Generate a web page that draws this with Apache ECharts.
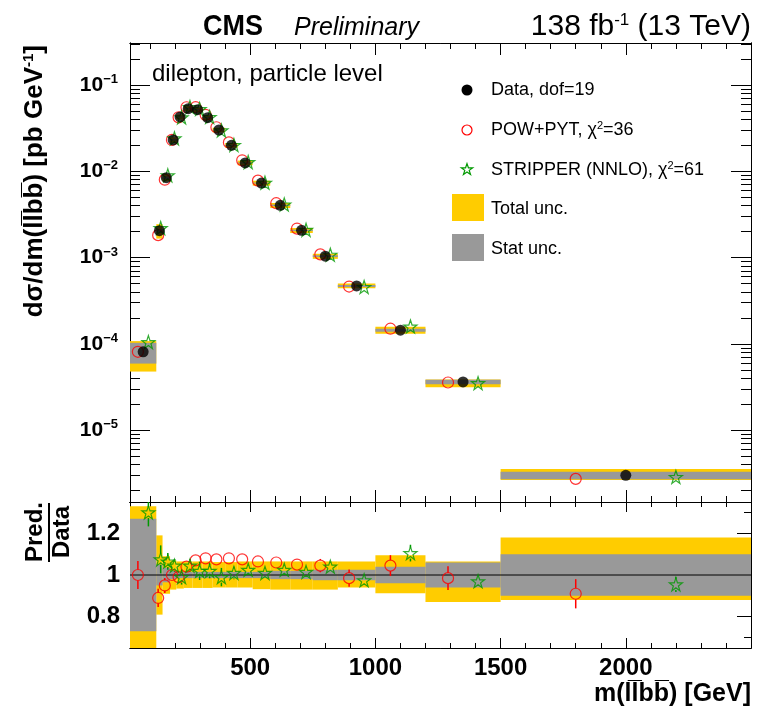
<!DOCTYPE html>
<html><head><meta charset="utf-8">
<script src="https://cdn.jsdelivr.net/npm/echarts@6/dist/echarts.min.js"></script>
<style>html,body{margin:0;padding:0;background:#fff}#c{width:759px;height:714px}</style>
</head><body><div id="c"></div>
<script>
// ---------------- data ----------------
const binEdges = [20,125,150,180,205,235,270,310,350,400,450,510,580,660,750,850,1000,1200,1500,2500];
const dataXsec  = [8.1e-5,2.05e-3,8.43e-3,2.31e-2,4.26e-2,5.31e-2,5.17e-2,4.18e-2,3.01e-2,2.0e-2,1.25e-2,7.31e-3,4.03e-3,2.07e-3,1.04e-3,4.69e-4,1.44e-4,3.62e-5,3.0e-6];
const powXsec   = [8.1e-5,1.82e-3,8.0e-3,2.31e-2,4.22e-2,5.52e-2,5.53e-2,4.51e-2,3.24e-2,2.16e-2,1.34e-2,7.79e-3,4.27e-3,2.17e-3,1.09e-3,4.62e-4,1.50e-4,3.57e-5,2.73e-6];
const stripXsec = [1.05e-4,2.20e-3,8.98e-3,2.41e-2,4.22e-2,5.55e-2,5.27e-2,4.26e-2,2.98e-2,2.02e-2,1.28e-2,7.38e-3,4.13e-3,2.10e-3,1.08e-3,4.57e-4,1.59e-4,3.51e-5,2.87e-6];
const powRatio      = [1.00,0.89,0.95,1.00,0.99,1.04,1.07,1.08,1.075,1.08,1.075,1.065,1.06,1.05,1.045,0.985,1.045,0.985,0.91];
const powRatioErr   = [0.067,0.044,0.036,0.02,0.02,0.02,0.025,0.025,0.025,0.025,0.025,0.025,0.025,0.025,0.032,0.041,0.05,0.057,0.07];
const stripRatio    = [1.30,1.075,1.065,1.045,0.99,1.045,1.02,1.02,0.99,1.01,1.025,1.01,1.025,1.015,1.04,0.975,1.105,0.97,0.955];
const stripRatioErr = [0.067,0.067,0.04,0.03,0.036,0.03,0.044,0.036,0.044,0.03,0.025,0.025,0.02,0.02,0.02,0.02,0.04,0.02,0.037];
const totUncUp    = [0.33,0.19,0.09,0.07,0.065,0.065,0.065,0.065,0.062,0.062,0.065,0.065,0.065,0.065,0.065,0.065,0.095,0.065,0.18];
const totUncDown  = [0.41,0.19,0.09,0.07,0.065,0.062,0.062,0.062,0.06,0.06,0.06,0.068,0.07,0.07,0.07,0.06,0.087,0.13,0.12];
const statUncUp   = [0.27,0.05,0.035,0.02,0.015,0.015,0.015,0.015,0.015,0.015,0.015,0.015,0.02,0.02,0.025,0.025,0.04,0.06,0.10];
const statUncDown = [0.27,0.05,0.035,0.02,0.015,0.015,0.015,0.015,0.015,0.015,0.015,0.015,0.02,0.02,0.025,0.025,0.04,0.06,0.10];
const xTickLabels = [500,1000,1500,2000];
const xMinorTicks = [100,200,300,400,600,700,800,900,1100,1200,1300,1400,1600,1700,1800,1900,2100,2200,2300,2400];
const yTickValues = [1e-1,1e-2,1e-3,1e-4,1e-5];
const yMinorTicks = [2e-6,3e-6,4e-6,5e-6,6e-6,7e-6,8e-6,9e-6,2e-5,3e-5,4e-5,5e-5,6e-5,7e-5,8e-5,9e-5,2e-4,3e-4,4e-4,5e-4,6e-4,7e-4,8e-4,9e-4,2e-3,3e-3,4e-3,5e-3,6e-3,7e-3,8e-3,9e-3,2e-2,3e-2,4e-2,5e-2,6e-2,7e-2,8e-2,9e-2,2e-1,3e-1];
const ratioTickLabels = [0.8,1,1.2];
const ratioMinorTicks = [0.7,0.9,1.1,1.3];

// ---------------- styling ----------------
const FONT = '"Liberation Sans", Arial, Helvetica, sans-serif';
const YELLOW = '#ffcc00', GRAY = '#999999', RED = '#ff0000', GREEN = '#009900';
const STAR_PTS = [[50,0],[61.8,35.1],[97.6,35.1],[68.5,56.7],[79.4,90.5],[50,69.5],[20.6,90.5],[31.5,56.7],[2.4,35.1],[38.2,35.1]];
const STAR = 'path://M' + STAR_PTS.map(p => p.join(',')).join(' L') + ' Z';
const X_MIN = 20, X_MAX = 2500;
const Y_MAX = 0.3067, Y_MIN = 1.472e-6;

const nb = dataXsec.length;
const lowE = binEdges.slice(0, nb), highE = binEdges.slice(1);
const centers = lowE.map((e, i) => (e + highE[i]) / 2);
const widths = lowE.map((e, i) => highE[i] - e);
const xPow = centers.map((c, i) => c - 0.2 * widths[i]);
const xStrip = centers.map((c, i) => c + 0.2 * widths[i]);

function bandRender(color) {
  return function (params, api) {
    const p0 = api.coord([api.value(0), api.value(3)]);
    const p1 = api.coord([api.value(1), api.value(2)]);
    const cs = params.coordSys;
    const r = echarts.graphic.clipRectByRect(
      {x: p0[0], y: p0[1], width: p1[0] - p0[0], height: p1[1] - p0[1]},
      {x: cs.x, y: cs.y, width: cs.width, height: cs.height});
    if (!r) return null;
    return {type: 'rect', shape: r, style: {fill: color}};
  };
}
function errRender(color) {
  return function (params, api) {
    const x = api.value(0), y = api.value(1), e = api.value(2);
    const cs = params.coordSys;
    const pc = api.coord([x, y]);
    let pt = api.coord([x, y + e])[1], pb = api.coord([x, y - e])[1];
    pt = Math.max(pt, cs.y); pb = Math.min(pb, cs.y + cs.height);
    const r = 5.5, ch = [];
    if (pc[1] - r > pt) ch.push({type: 'line', shape: {x1: pc[0], y1: pt, x2: pc[0], y2: pc[1] - r}, style: {stroke: color, lineWidth: 1.5}});
    if (pb > pc[1] + r) ch.push({type: 'line', shape: {x1: pc[0], y1: pc[1] + r, x2: pc[0], y2: pb}, style: {stroke: color, lineWidth: 1.5}});
    return {type: 'group', children: ch};
  };
}

function xAx(grid, pos, ticks, len, labels) {
  const a = {type: 'value', gridIndex: grid, position: pos, min: X_MIN, max: X_MAX,
    axisLine: {show: true, onZero: false, lineStyle: {color: '#000', width: 1}},
    axisTick: {show: true, inside: true, length: len, customValues: ticks, lineStyle: {color: '#000', width: 1}},
    axisLabel: {show: false}, splitLine: {show: false}};
  if (labels) a.axisLabel = {show: true, customValues: xTickLabels, margin: 8, formatter: v => String(Math.round(v)),
    fontFamily: FONT, fontWeight: 'bold', fontSize: 24, color: '#000'};
  return a;
}
function yLog(pos, ticks, len, labels) {
  const a = {type: 'log', logBase: 10, gridIndex: 0, position: pos, min: Y_MIN, max: Y_MAX,
    axisLine: {show: true, onZero: false, lineStyle: {color: '#000', width: 1}},
    axisTick: {show: true, inside: true, length: len, customValues: ticks, lineStyle: {color: '#000', width: 1}},
    axisLabel: {show: false}, splitLine: {show: false}, minorTick: {show: false}};
  if (labels) a.axisLabel = {show: true, customValues: yTickValues, margin: 12,
    formatter: v => '{b|10}{s|\u2212' + Math.abs(Math.round(Math.log10(v))) + '}',
    rich: {b: {fontFamily: FONT, fontWeight: 'bold', fontSize: 21, color: '#000'},
           s: {fontFamily: FONT, fontWeight: 'bold', fontSize: 13, color: '#000', padding: [0, 0, 11, 0]}}};
  return a;
}
function yRat(pos, ticks, len, labels) {
  const a = {type: 'value', gridIndex: 1, position: pos, min: 0.65, max: 1.35,
    axisLine: {show: true, onZero: false, lineStyle: {color: '#000', width: 1}},
    axisTick: {show: true, inside: true, length: len, customValues: ticks, lineStyle: {color: '#000', width: 1}},
    axisLabel: {show: false}, splitLine: {show: false}};
  if (labels) a.axisLabel = {show: true, customValues: ratioTickLabels, margin: 10,
    fontFamily: FONT, fontWeight: 'bold', fontSize: 24, color: '#000'};
  return a;
}

const upperYellow = dataXsec.map((d, i) => [lowE[i], highE[i], d * (1 - totUncDown[i]), d * (1 + totUncUp[i])]);
const upperGray = dataXsec.map((d, i) => [lowE[i], highE[i], d * (1 - statUncDown[i]), d * (1 + statUncUp[i])]);
const ratioYellow = lowE.map((e, i) => [e, highE[i], 1 - totUncDown[i], 1 + totUncUp[i]]);
const ratioGray = lowE.map((e, i) => [e, highE[i], 1 - statUncDown[i], 1 + statUncUp[i]]);

const legStar = STAR_PTS.map(p => [467 + (p[0] - 50) * 0.12, 169 + (p[1] - 45.25) * 0.12]);
const txt = (o) => Object.assign({type: 'text', silent: true}, o);
const option = {
  animation: false,
  backgroundColor: '#fff',
  grid: [
    {left: 130, top: 43, width: 621, height: 459},
    {left: 130, top: 502, width: 621, height: 146}
  ],
  xAxis: [
    xAx(0, 'bottom', xTickLabels, 12, false), xAx(0, 'bottom', xMinorTicks, 6, false),
    xAx(0, 'top', xTickLabels, 12, false), xAx(0, 'top', xMinorTicks, 6, false),
    xAx(1, 'bottom', xTickLabels, 10, true), xAx(1, 'bottom', xMinorTicks, 5, false),
    xAx(1, 'top', xTickLabels, 10, false), xAx(1, 'top', xMinorTicks, 5, false)
  ],
  yAxis: [
    yLog('left', yTickValues, 20, true), yLog('left', yMinorTicks, 10, false),
    yLog('right', yTickValues, 20, false), yLog('right', yMinorTicks, 10, false),
    yRat('left', ratioTickLabels, 14, true), yRat('left', ratioMinorTicks, 7, false),
    yRat('right', ratioTickLabels, 14, false), yRat('right', ratioMinorTicks, 7, false)
  ],
  series: [
    {name: 'Total unc.', type: 'custom', xAxisIndex: 0, yAxisIndex: 0, renderItem: bandRender(YELLOW), data: upperYellow, z: 1},
    {name: 'Stat unc.', type: 'custom', xAxisIndex: 0, yAxisIndex: 0, renderItem: bandRender(GRAY), data: upperGray, z: 2},
    {name: 'POW+PYT', type: 'scatter', xAxisIndex: 0, yAxisIndex: 0, symbol: 'circle', symbolSize: 11,
      itemStyle: {color: 'rgba(0,0,0,0)', borderColor: RED, borderWidth: 1.2}, data: xPow.map((x, i) => [x, powXsec[i]]), z: 3},
    {name: 'STRIPPER (NNLO)', type: 'scatter', xAxisIndex: 0, yAxisIndex: 0, symbol: STAR, symbolSize: 13,
      itemStyle: {color: 'rgba(0,0,0,0)', borderColor: GREEN, borderWidth: 1.2}, data: xStrip.map((x, i) => [x, stripXsec[i]]), z: 4},
    {name: 'Data', type: 'scatter', xAxisIndex: 0, yAxisIndex: 0, symbol: 'circle', symbolSize: 11,
      itemStyle: {color: '#000'}, data: centers.map((x, i) => [x, dataXsec[i]]), z: 5},

    {type: 'custom', xAxisIndex: 4, yAxisIndex: 4, renderItem: bandRender(YELLOW), data: ratioYellow, z: 1},
    {type: 'custom', xAxisIndex: 4, yAxisIndex: 4, renderItem: bandRender(GRAY), data: ratioGray, z: 2},
    {type: 'line', xAxisIndex: 4, yAxisIndex: 4, data: [[X_MIN, 1], [X_MAX, 1]], showSymbol: false, symbol: 'none',
      lineStyle: {color: '#000', width: 1}, z: 3},
    {type: 'custom', xAxisIndex: 4, yAxisIndex: 4, renderItem: errRender(RED), data: xPow.map((x, i) => [x, powRatio[i], powRatioErr[i]]), z: 4},
    {type: 'custom', xAxisIndex: 4, yAxisIndex: 4, renderItem: errRender(GREEN), data: xStrip.map((x, i) => [x, stripRatio[i], stripRatioErr[i]]), z: 4},
    {type: 'scatter', xAxisIndex: 4, yAxisIndex: 4, symbol: 'circle', symbolSize: 11,
      itemStyle: {color: 'rgba(0,0,0,0)', borderColor: RED, borderWidth: 1.2}, data: xPow.map((x, i) => [x, powRatio[i]]), z: 5},
    {type: 'scatter', xAxisIndex: 4, yAxisIndex: 4, symbol: STAR, symbolSize: 13,
      itemStyle: {color: 'rgba(0,0,0,0)', borderColor: GREEN, borderWidth: 1.2}, data: xStrip.map((x, i) => [x, stripRatio[i]]), z: 5}
  ],
  graphic: [
    txt({x: 203, y: 27, scaleY: 1.12, style: {text: 'CMS', font: 'bold 27px ' + FONT, fill: '#000', align: 'left', verticalAlign: 'middle'}}),
    txt({x: 294, y: 28, style: {text: 'Preliminary', font: 'italic 25px ' + FONT, fill: '#000', align: 'left', verticalAlign: 'middle'}}),
    txt({x: 751, y: 27, style: {text: '{a|138 fb}{s|-1}{a| (13 TeV)}', align: 'right', verticalAlign: 'middle',
      rich: {a: {fontFamily: FONT, fontSize: 30, fill: '#000'}, s: {fontFamily: FONT, fontSize: 17, fill: '#000', padding: [0, 0, 13, 0]}}}}),
    txt({x: 152, y: 74, style: {text: 'dilepton, particle level', font: '24px ' + FONT, fill: '#000', align: 'left', verticalAlign: 'middle'}}),
    // legend
    {type: 'circle', silent: true, shape: {cx: 467, cy: 90, r: 5.5}, style: {fill: '#000'}},
    {type: 'circle', silent: true, shape: {cx: 467, cy: 130, r: 5}, style: {fill: 'none', stroke: RED, lineWidth: 1.2}},
    {type: 'polygon', silent: true, shape: {points: legStar}, style: {fill: 'none', stroke: GREEN, lineWidth: 1.2}},
    {type: 'rect', silent: true, shape: {x: 452, y: 194, width: 32, height: 27}, style: {fill: YELLOW}},
    {type: 'rect', silent: true, shape: {x: 452, y: 234, width: 32, height: 27}, style: {fill: GRAY}},
    txt({x: 491, y: 90, style: {text: 'Data, dof=19', font: '18px ' + FONT, fill: '#000', align: 'left', verticalAlign: 'middle'}}),
    txt({x: 491, y: 130, style: {text: '{a|POW+PYT, \u03c7}{s|2}{a|=36}', align: 'left', verticalAlign: 'middle',
      rich: {a: {fontFamily: FONT, fontSize: 18, fill: '#000'}, s: {fontFamily: FONT, fontSize: 11, fill: '#000', padding: [0, 0, 8, 0]}}}}),
    txt({x: 491, y: 170, style: {text: '{a|STRIPPER (NNLO), \u03c7}{s|2}{a|=61}', align: 'left', verticalAlign: 'middle',
      rich: {a: {fontFamily: FONT, fontSize: 18, fill: '#000'}, s: {fontFamily: FONT, fontSize: 11, fill: '#000', padding: [0, 0, 8, 0]}}}}),
    txt({x: 491, y: 209, style: {text: 'Total unc.', font: '18px ' + FONT, fill: '#000', align: 'left', verticalAlign: 'middle'}}),
    txt({x: 491, y: 249, style: {text: 'Stat unc.', font: '18px ' + FONT, fill: '#000', align: 'left', verticalAlign: 'middle'}}),
    // axis titles
    txt({x: 35, y: 45, rotation: Math.PI / 2, style: {text: '{a|d\u03c3/dm(ll\u0305bb\u0305) [pb GeV}{s|-1}{a|]}', align: 'right', verticalAlign: 'middle',
      rich: {a: {fontFamily: FONT, fontWeight: 'bold', fontSize: 26, fill: '#000'}, s: {fontFamily: FONT, fontWeight: 'bold', fontSize: 15, fill: '#000', padding: [0, 0, 12, 0]}}}}),
    txt({x: 751, y: 694, style: {text: 'm(ll\u0305bb\u0305) [GeV]', font: 'bold 25px ' + FONT, fill: '#000', align: 'right', verticalAlign: 'middle'}}),
    txt({x: 35, y: 532, rotation: Math.PI / 2, style: {text: 'Pred.', font: 'bold 24px ' + FONT, fill: '#000', align: 'center', verticalAlign: 'middle'}}),
    txt({x: 62, y: 532, rotation: Math.PI / 2, style: {text: 'Data', font: 'bold 24px ' + FONT, fill: '#000', align: 'center', verticalAlign: 'middle'}}),
    {type: 'line', silent: true, shape: {x1: 49, y1: 503, x2: 49, y2: 562}, style: {stroke: '#000', lineWidth: 2}}
  ]
};
const chart = echarts.init(document.getElementById('c'), null, {renderer: 'canvas'});
chart.setOption(option);
</script>
</body></html>
